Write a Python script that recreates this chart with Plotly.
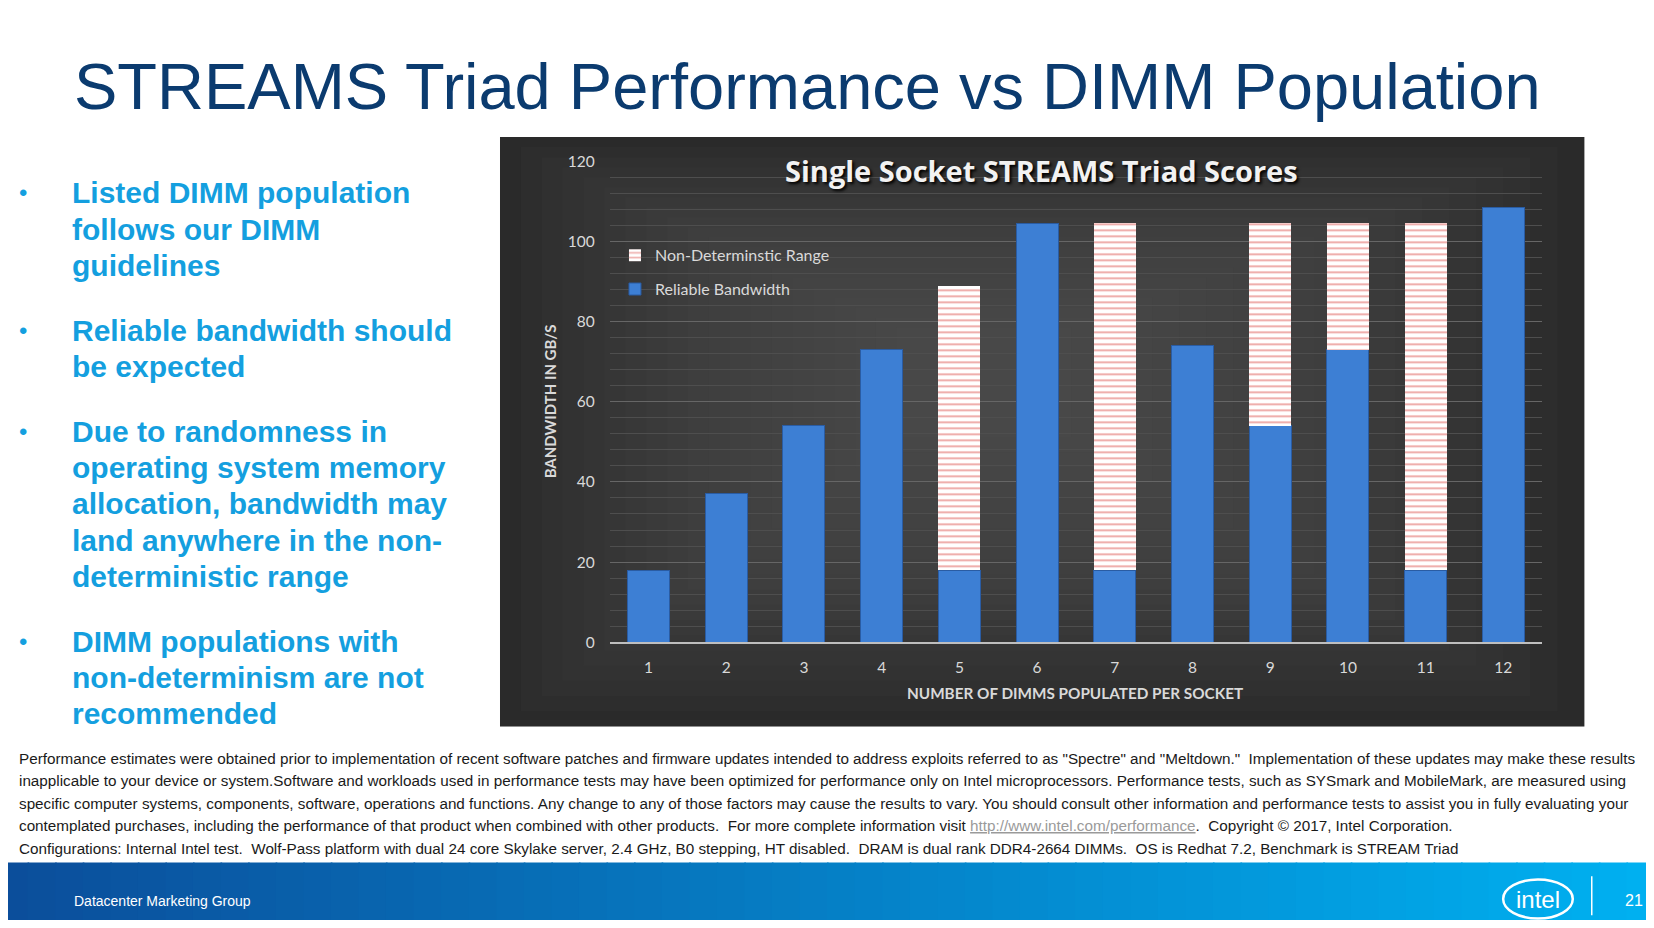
import plotly.graph_objects as go

# positions below (1568x880 view of the 1654x928 page)
REF_W, REF_H = 1568, 880
PAGE_W, PAGE_H = 1654, 928
# where the autosized figure sits on the page (body margins)
FIG_L, FIG_T, FIG_W, FIG_H = 8, 18, 1638, 894

# data
dimms = [1, 2, 3, 4, 5, 6, 7, 8, 9, 10, 11, 12]
reliable_bw = [18, 37, 54, 73, 18, 104.5, 18, 74, 54, 73, 18, 108.5]
range_top = [None, None, None, None, 89, None, 104.5, None, 104.5, 104.5, 104.5, None]
y_ticks = [0, 20, 40, 60, 80, 100, 120]

range_height = [t - r if t is not None else None for t, r in zip(range_top, reliable_bw)]

bullets = [
    ["Listed DIMM population", "follows our DIMM", "guidelines"],
    ["Reliable bandwidth should", "be expected"],
    ["Due to randomness in", "operating system memory", "allocation, bandwidth may",
     "land anywhere in the non-", "deterministic range"],
    ["DIMM populations with", "non-determinism are not", "recommended"],
]
bullet_start = [183, 313, 409, 608]

footnote = [
    'Performance estimates were obtained prior to implementation of recent software patches and firmware updates intended to address exploits referred to as "Spectre" and "Meltdown."  Implementation of these updates may make these results',
    'inapplicable to your device or system.Software and workloads used in performance tests may have been optimized for performance only on Intel microprocessors. Performance tests, such as SYSmark and MobileMark, are measured using',
    'specific computer systems, components, software, operations and functions. Any change to any of those factors may cause the results to vary. You should consult other information and performance tests to assist you in fully evaluating your',
    'contemplated purchases, including the performance of that product when combined with other products.  For more complete information visit '
    '<span style="color:#9a9a9a"><u>http://www.intel.com/performance</u></span>.  Copyright © 2017, Intel Corporation.',
    'Configurations: Internal Intel test.  Wolf-Pass platform with dual 24 core Skylake server, 2.4 GHz, B0 stepping, HT disabled.  DRAM is dual rank DDR4-2664 DIMMs.  OS is Redhat 7.2, Benchmark is STREAM Triad',
]


def px(x):
    return (x * PAGE_W / REF_W - FIG_L) / FIG_W


def py(y):
    return 1 - (y * PAGE_H / REF_H - FIG_T) / FIG_H


fig = go.Figure()

fig.add_trace(go.Bar(
    x=dimms, y=reliable_bw, name="Reliable Bandwidth", legendgroup="rel", legendrank=2,
    marker=dict(color="#3d7fd4", line=dict(color="#2a5ca3", width=1)),
))
fig.add_trace(go.Bar(
    x=dimms, y=range_height, name="Non-Determinstic Range", legendgroup="nd", legendrank=1,
    marker=dict(color="#ffffff", line=dict(width=0),
                pattern=dict(shape="-", fillmode="overlay", fgcolor="#e0605c",
                             bgcolor="#ffffff", size=6, solidity=0.35)),
))

shapes = []

# dark chart panel with a soft lighter centre
cx0, cy0, cx1, cy1 = 474, 130, 1502, 689
shapes.append(dict(type="rect", xref="paper", yref="paper", layer="below",
                   x0=px(cx0), x1=px(cx1), y0=py(cy1), y1=py(cy0),
                   fillcolor="#272727", line=dict(width=0)))
mx, my = 930, 360
for k in range(20):
    f = k / 20
    shapes.append(dict(type="rect", xref="paper", yref="paper", layer="below",
                       x0=px(cx0 + (mx - 60 - cx0) * f), x1=px(cx1 - (cx1 - mx - 60) * f),
                       y0=py(cy1 - (cy1 - my - 40) * f), y1=py(cy0 + (my - 40 - cy0) * f),
                       fillcolor="rgba(95,95,95,0.065)", line=dict(width=0)))

# footer strip
n = 60
c0, c1 = (11, 78, 155), (0, 176, 240)
for k in range(n):
    t = k / (n - 1)
    col = "rgb(%d,%d,%d)" % tuple(round(a + (b - a) * t) for a, b in zip(c0, c1))
    shapes.append(dict(type="rect", xref="paper", yref="paper",
                       x0=px(REF_W * k / n), x1=px(REF_W * (k + 1) / n) + 0.001,
                       y0=py(REF_H), y1=py(818),
                       fillcolor=col, line=dict(width=0)))

# intel logo swoosh + separator
shapes.append(dict(type="circle", xref="paper", yref="paper",
                   x0=px(1425), x1=px(1491), y0=py(871), y1=py(834),
                   line=dict(color="white", width=2.5)))
shapes.append(dict(type="line", xref="paper", yref="paper",
                   x0=px(1509), x1=px(1509), y0=py(868), y1=py(831),
                   line=dict(color="white", width=1.5)))

ann = []
ann.append(dict(text="STREAMS Triad Performance vs DIMM Population",
                x=px(68), y=py(82), xanchor="left", yanchor="middle",
                font=dict(family="Liberation Sans, Arial", size=65, color="#0b3b6f")))

step = 34.4
for lines, y0 in zip(bullets, bullet_start):
    ann.append(dict(text="•", x=px(22), y=py(y0), xanchor="center", yanchor="middle",
                    font=dict(family="Liberation Sans, Arial", size=24, color="#149fdf")))
    for i, line in enumerate(lines):
        ann.append(dict(text="<b>%s</b>" % line, x=px(66), y=py(y0 + i * step),
                        xanchor="left", yanchor="middle",
                        font=dict(family="Liberation Sans, Arial", size=30, color="#149fdf")))

ann.append(dict(text="<b>Single Socket STREAMS Triad Scores</b>", x=px(987), y=py(162),
                xanchor="center", yanchor="middle",
                font=dict(family="Open Sans, Lato", size=29, color="#f2f2f2",
                          shadow="2px 2px 3px #000")))
ann.append(dict(text="<b>BANDWIDTH IN GB/S</b>", x=px(521), y=py(381), textangle=-90,
                xanchor="center", yanchor="middle",
                font=dict(family="Lato, Open Sans", size=15, color="#d9d9d9")))
ann.append(dict(text="<b>NUMBER OF DIMMS POPULATED PER SOCKET</b>", x=px(1019), y=py(657),
                xanchor="center", yanchor="middle",
                font=dict(family="Lato, Open Sans", size=15.3, color="#d9d9d9")))

for i, line in enumerate(footnote):
    ann.append(dict(text=line, x=px(16), y=py(719 + i * 21.3), xanchor="left", yanchor="middle",
                    font=dict(family="Liberation Sans, Arial", size=15.25, color="#1a1a1a")))

ann.append(dict(text="Datacenter Marketing Group", x=px(68), y=py(854), xanchor="left",
                yanchor="middle", font=dict(family="Liberation Sans, Arial", size=14, color="white")))
ann.append(dict(text="intel", x=px(1458), y=py(853), xanchor="center", yanchor="middle",
                font=dict(family="Liberation Sans, Arial", size=24, color="white")))
ann.append(dict(text="21", x=px(1549), y=py(854), xanchor="center", yanchor="middle",
                font=dict(family="Liberation Sans, Arial", size=16, color="white")))

for a in ann:
    a.update(xref="paper", yref="paper", showarrow=False)

fig.update_layout(
    margin=dict(l=0, r=0, t=0, b=0),
    paper_bgcolor="white",
    plot_bgcolor="rgba(0,0,0,0)",
    barmode="stack",
    bargap=0.46,
    shapes=shapes,
    annotations=ann,
    showlegend=True,
    legend=dict(x=px(583), y=py(226), xanchor="left", yanchor="top",
                traceorder="grouped", tracegroupgap=10,
                bgcolor="rgba(0,0,0,0)",
                font=dict(family="Lato, Open Sans", size=16, color="#d9d9d9")),
    xaxis=dict(domain=[px(578), px(1462)], range=[0.5, 12.5], tickmode="array",
               tickvals=dimms, ticktext=[str(d) for d in dimms],
               showline=True, linecolor="#bfbfbf", linewidth=2, showgrid=False,
               ticks="", ticklabelstandoff=10,
               tickfont=dict(family="Lato, Open Sans", size=15.5, color="#d9d9d9")),
    yaxis=dict(domain=[py(609), py(153)], range=[0, 120], tickmode="array",
               tickvals=y_ticks, showgrid=True, gridcolor="#666666", gridwidth=1,
               zeroline=False, showline=False, ticks="", ticklabelstandoff=14,
               minor=dict(dtick=4, showgrid=True, gridcolor="#4e4e4e", gridwidth=1),
               tickfont=dict(family="Lato, Open Sans", size=15.5, color="#d9d9d9")),
)

fig.write_html("out.html")
